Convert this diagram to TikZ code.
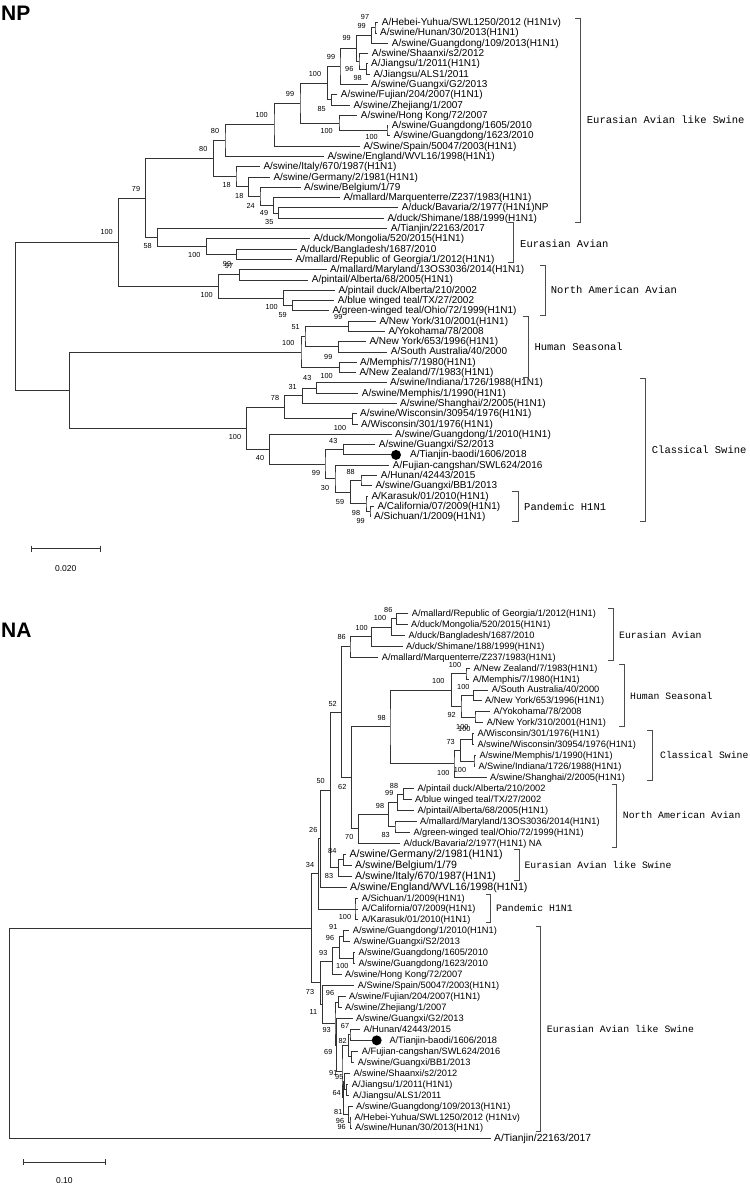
\documentclass[tikz,border=0pt]{standalone}
\usepackage{fontspec}
\setmainfont{Liberation Sans}
\newfontfamily\cladefont{Liberation Mono}
\usetikzlibrary{positioning}
\tikzset{
  branch/.style={draw=black!80, line width=0.9pt},
  leaf/.style={anchor=west, inner xsep=3.5pt, inner ysep=0pt, text height=7.6pt, text depth=1.6pt,
               font=\fontsize{10}{10}\selectfont},
  leafna/.style={leaf, font=\fontsize{9.25}{9.25}\selectfont},
  leafbig/.style={leaf, font=\fontsize{10.6}{10.6}\selectfont},
  boot/.style={inner sep=0pt, font=\fontsize{7.3}{7.3}\selectfont},
  marker/.style={circle, fill=black, inner sep=0pt, minimum size=10pt},
  clade/.style={draw=black!70, line width=0.9pt},
  cladename/.style={anchor=west, inner sep=0pt, font=\cladefont\fontsize{10.5}{10.5}\selectfont},
  cladenamena/.style={cladename, font=\cladefont\fontsize{9.8}{9.8}\selectfont},
  treetitle/.style={anchor=west, inner sep=0pt, font=\fontsize{21}{21}\selectfont\bfseries},
  scalebar/.style={draw=black!80, line width=0.9pt},
}
\newcommand{\cladebar}[4]{\draw[clade] (#1,#3) -| (#2,#4) -- (#1,#4);}

\begin{document}
\begin{tikzpicture}[x=1pt, y=-1pt]
\useasboundingbox (0,0) rectangle (750,1187);

% ---------------- NP tree ----------------
\node[treetitle] (np-title) at (1,13.3) {NP};

\begin{scope}[yshift=-22.7pt, y=-10.29pt]
% leaves
\node[leaf] (np-l0) at (378.2,0) {A/Hebei-Yuhua/SWL1250/2012 (H1N1v)};
\node[leaf] (np-l1) at (376.5,1) {A/swine/Hunan/30/2013(H1N1)};
\node[leaf] (np-l2) at (388.2,2) {A/swine/Guangdong/109/2013(H1N1)};
\node[leaf] (np-l3) at (368.2,3) {A/swine/Shaanxi/s2/2012};
\node[leaf] (np-l4) at (367.5,4) {A/Jiangsu/1/2011(H1N1)};
\node[leaf] (np-l5) at (369.8,5) {A/Jiangsu/ALS1/2011};
\node[leaf] (np-l6) at (367.5,6) {A/swine/Guangxi/G2/2013};
\node[leaf] (np-l7) at (337.2,7) {A/swine/Fujian/204/2007(H1N1)};
\node[leaf] (np-l8) at (349.8,8) {A/swine/Zhejiang/1/2007};
\node[leaf] (np-l9) at (357.2,9) {A/swine/Hong Kong/72/2007};
\node[leaf] (np-l10) at (388.2,10) {A/swine/Guangdong/1605/2010};
\node[leaf] (np-l11) at (389.8,11) {A/swine/Guangdong/1623/2010};
\node[leaf] (np-l12) at (359.8,12) {A/Swine/Spain/50047/2003(H1N1)};
\node[leaf] (np-l13) at (323.8,13) {A/swine/England/WVL16/1998(H1N1)};
\node[leaf] (np-l14) at (259.8,14) {A/swine/Italy/670/1987(H1N1)};
\node[leaf] (np-l15) at (269.8,15) {A/swine/Germany/2/1981(H1N1)};
\node[leaf] (np-l16) at (300.5,16) {A/swine/Belgium/1/79};
\node[leaf] (np-l17) at (339.8,17) {A/mallard/Marquenterre/Z237/1983(H1N1)};
\node[leaf] (np-l18) at (398.2,18) {A/duck/Bavaria/2/1977(H1N1)NP};
\node[leaf] (np-l19) at (383.8,19) {A/duck/Shimane/188/1999(H1N1)};
\node[leaf] (np-l20) at (387.2,20) {A/Tianjin/22163/2017};
\node[leaf] (np-l21) at (309.8,21) {A/duck/Mongolia/520/2015(H1N1)};
\node[leaf] (np-l22) at (296.5,22) {A/duck/Bangladesh/1687/2010};
\node[leaf] (np-l23) at (291.8,23) {A/mallard/Republic of Georgia/1/2012(H1N1)};
\node[leaf] (np-l24) at (326.5,24) {A/mallard/Maryland/13OS3036/2014(H1N1)};
\node[leaf] (np-l25) at (308.2,25) {A/pintail/Alberta/68/2005(H1N1)};
\node[leaf] (np-l26) at (334.8,26) {A/pintail duck/Alberta/210/2002};
\node[leaf] (np-l27) at (334.2,27) {A/blue winged teal/TX/27/2002};
\node[leaf] (np-l28) at (328.8,28) {A/green-winged teal/Ohio/72/1999(H1N1)};
\node[leaf] (np-l29) at (375.8,29) {A/New York/310/2001(H1N1)};
\node[leaf] (np-l30) at (384.8,30) {A/Yokohama/78/2008};
\node[leaf] (np-l31) at (365.8,31) {A/New York/653/1996(H1N1)};
\node[leaf] (np-l32) at (387.2,32) {A/South Australia/40/2000};
\node[leaf] (np-l33) at (356.5,33) {A/Memphis/7/1980(H1N1)};
\node[leaf] (np-l34) at (355.8,34) {A/New Zealand/7/1983(H1N1)};
\node[leaf] (np-l35) at (386.5,35) {A/swine/Indiana/1726/1988(H1N1)};
\node[leaf] (np-l36) at (358.2,36) {A/swine/Memphis/1/1990(H1N1)};
\node[leaf] (np-l37) at (396.5,37) {A/swine/Shanghai/2/2005(H1N1)};
\node[leaf] (np-l38) at (356.5,38) {A/swine/Wisconsin/30954/1976(H1N1)};
\node[leaf] (np-l39) at (357.5,39) {A/Wisconsin/301/1976(H1N1)};
\node[leaf] (np-l40) at (391.5,40) {A/swine/Guangdong/1/2010(H1N1)};
\node[leaf] (np-l41) at (375.2,41) {A/swine/Guangxi/S2/2013};
\node[marker] (np-dot) at (396,42) {};
\node[leaf] (np-l42) at (406.5,42) {A/Tianjin-baodi/1606/2018};
\node[leaf] (np-l43) at (389.2,43) {A/Fujian-cangshan/SWL624/2016};
\node[leaf] (np-l44) at (377.2,44) {A/Hunan/42443/2015};
\node[leaf] (np-l45) at (371.8,45) {A/swine/Guangxi/BB1/2013};
\node[leaf] (np-l46) at (367.8,46) {A/Karasuk/01/2010(H1N1)};
\node[leaf] (np-l47) at (373.8,47) {A/California/07/2009(H1N1)};
\node[leaf] (np-l48) at (370.5,48) {A/Sichuan/1/2009(H1N1)};

% internal nodes
\coordinate (np-n01) at (375,0.5);
\coordinate (np-n0to2) at (371.7,1.25);
\coordinate (np-n45) at (366.7,4.5);
\coordinate (np-n3to5) at (359,3.75);
\coordinate (np-n0to5) at (356.7,2.5);
\coordinate (np-n0to6) at (340,4.25);
\coordinate (np-n78) at (331.5,7.5);
\coordinate (np-n0to8) at (327.7,5.875);
\coordinate (np-n1011) at (387,10.5);
\coordinate (np-n9to11) at (339,9.75);
\coordinate (np-n0to11) at (300,7.8125);
\coordinate (np-n0to12) at (274,9.906);
\coordinate (np-n0to13) at (225,11.453);
\coordinate (np-n1819) at (278.3,18.5);
\coordinate (np-n17to19) at (273.3,17.75);
\coordinate (np-n16to19) at (260,16.875);
\coordinate (np-n15to19) at (248.3,15.9375);
\coordinate (np-n14to19) at (236,14.969);
\coordinate (np-n0to19) at (213.3,13.211);
\coordinate (np-n2223) at (236.7,22.5);
\coordinate (np-n21to23) at (206.7,21.75);
\coordinate (np-n20to23) at (157.3,20.875);
\coordinate (np-n0to23) at (145.3,17.043);
\coordinate (np-n2425) at (239.3,24.5);
\coordinate (np-n2728) at (292.7,27.5);
\coordinate (np-n26to28) at (283.3,26.75);
\coordinate (np-n24to28) at (218.3,25.625);
\coordinate (np-n0to28) at (118.7,21.334);
\coordinate (np-n2930) at (348.3,29.5);
\coordinate (np-n3132) at (338.3,31.5);
\coordinate (np-n29to32) at (305,30.5);
\coordinate (np-n3334) at (339.3,33.5);
\coordinate (np-n29to34) at (301,32);
\coordinate (np-n3536) at (316.7,35.5);
\coordinate (np-n35to37) at (302.7,36.25);
\coordinate (np-n3839) at (352.7,38.5);
\coordinate (np-n35to39) at (284.3,37.375);
\coordinate (np-n4142) at (343.3,41.5);
\coordinate (np-n4445) at (361,44.5);
\coordinate (np-n4748) at (370,47.5);
\coordinate (np-n46to48) at (366,46.75);
\coordinate (np-n44to48) at (350.7,45.625);
\coordinate (np-n43to48) at (335,44.3125);
\coordinate (np-n41to48) at (325,42.906);
\coordinate (np-n40to48) at (269.3,41.453);
\coordinate (np-n35to48) at (246.7,39.414);
\coordinate (np-n29to48) at (69.3,35.707);
\coordinate (np-root) at (15.7,28.52);

% branches
\draw[branch] (np-l0) -| (np-n01) |- (np-l1);
\draw[branch] (np-n01) -| (np-n0to2) |- (np-l2);
\draw[branch] (np-l4) -| (np-n45) |- (np-l5);
\draw[branch] (np-l3) -| (np-n3to5) |- (np-n45);
\draw[branch] (np-n0to2) -| (np-n0to5) |- (np-n3to5);
\draw[branch] (np-n0to5) -| (np-n0to6) |- (np-l6);
\draw[branch] (np-l7) -| (np-n78) |- (np-l8);
\draw[branch] (np-n0to6) -| (np-n0to8) |- (np-n78);
\draw[branch] (np-l10) -| (np-n1011) |- (np-l11);
\draw[branch] (np-l9) -| (np-n9to11) |- (np-n1011);
\draw[branch] (np-n0to8) -| (np-n0to11) |- (np-n9to11);
\draw[branch] (np-n0to11) -| (np-n0to12) |- (np-l12);
\draw[branch] (np-n0to12) -| (np-n0to13) |- (np-l13);
\draw[branch] (np-l18) -| (np-n1819) |- (np-l19);
\draw[branch] (np-l17) -| (np-n17to19) |- (np-n1819);
\draw[branch] (np-l16) -| (np-n16to19) |- (np-n17to19);
\draw[branch] (np-l15) -| (np-n15to19) |- (np-n16to19);
\draw[branch] (np-l14) -| (np-n14to19) |- (np-n15to19);
\draw[branch] (np-n0to13) -| (np-n0to19) |- (np-n14to19);
\draw[branch] (np-l22) -| (np-n2223) |- (np-l23);
\draw[branch] (np-l21) -| (np-n21to23) |- (np-n2223);
\draw[branch] (np-l20) -| (np-n20to23) |- (np-n21to23);
\draw[branch] (np-n0to19) -| (np-n0to23) |- (np-n20to23);
\draw[branch] (np-l24) -| (np-n2425) |- (np-l25);
\draw[branch] (np-l27) -| (np-n2728) |- (np-l28);
\draw[branch] (np-l26) -| (np-n26to28) |- (np-n2728);
\draw[branch] (np-n2425) -| (np-n24to28) |- (np-n26to28);
\draw[branch] (np-n0to23) -| (np-n0to28) |- (np-n24to28);
\draw[branch] (np-l29) -| (np-n2930) |- (np-l30);
\draw[branch] (np-l31) -| (np-n3132) |- (np-l32);
\draw[branch] (np-n2930) -| (np-n29to32) |- (np-n3132);
\draw[branch] (np-l33) -| (np-n3334) |- (np-l34);
\draw[branch] (np-n29to32) -| (np-n29to34) |- (np-n3334);
\draw[branch] (np-l35) -| (np-n3536) |- (np-l36);
\draw[branch] (np-n3536) -| (np-n35to37) |- (np-l37);
\draw[branch] (np-l38) -| (np-n3839) |- (np-l39);
\draw[branch] (np-n35to37) -| (np-n35to39) |- (np-n3839);
\draw[branch] (np-l41) -| (np-n4142) |- (np-dot);
\draw[branch] (np-l44) -| (np-n4445) |- (np-l45);
\draw[branch] (np-l47) -| (np-n4748) |- (np-l48);
\draw[branch] (np-l46) -| (np-n46to48) |- (np-n4748);
\draw[branch] (np-n4445) -| (np-n44to48) |- (np-n46to48);
\draw[branch] (np-l43) -| (np-n43to48) |- (np-n44to48);
\draw[branch] (np-n4142) -| (np-n41to48) |- (np-n43to48);
\draw[branch] (np-l40) -| (np-n40to48) |- (np-n41to48);
\draw[branch] (np-n35to39) -| (np-n35to48) |- (np-n40to48);
\draw[branch] (np-n29to34) -| (np-n29to48) |- (np-n35to48);
\draw[branch] (np-n0to28) -| (np-root) |- (np-n29to48);
\end{scope}

% bootstrap values
\foreach [count=\k] \bx/\by/\bv in {365/16.7/97, 361.7/26/99, 346.7/38.3/99, 331/57.3/99,
    315/74/100, 349.3/69.3/96, 357.7/77.7/98, 290/94.3/99, 321.7/109.3/85, 261.7/115/100,
    326.7/131/100, 371.7/137.3/100, 215/131/80, 203.3/149/80, 226.7/185/18, 136/189/79,
    239.3/196/18, 250.7/205.7/24, 264/213.3/49, 269.3/221.7/35, 106.7/231.7/100,
    147.7/246/58, 194.3/255/100, 227/264/99, 229/266/97, 206.7/295/100, 271.7/306.7/100,
    282.7/315/59, 338.3/316.7/99, 295.7/326.7/51, 288.3/342.7/100, 328.3/356.7/99,
    307.3/378.3/43, 326.7/376/100, 292.7/386.7/31, 275/398.3/78, 340/428.3/100,
    235/437.3/100, 333.3/441/43, 260/458.3/40, 350.7/472.3/88, 316/473.3/99,
    325/487.7/30, 340/501.7/59, 356/512.7/98, 360.7/521/99}
  \node[boot] (np-b\k) at (\bx,\by) {\bv};

% clade brackets
\cladebar{575}{580}{18.3}{222.3}
\node[cladename] (np-eals) at (586.7,120) {Eurasian Avian like Swine};
\cladebar{508.3}{513.3}{222.7}{262.7}
\node[cladename] (np-ea) at (520,244) {Eurasian Avian};
\cladebar{540}{545.7}{265}{315}
\node[cladename] (np-naa) at (550.7,290) {North American Avian};
\cladebar{522.7}{528.3}{316}{377.3}
\node[cladename] (np-hs) at (534.3,346.7) {Human Seasonal};
\cladebar{640}{645.7}{378.3}{521.7}
\node[cladename] (np-cs) at (651.7,450) {Classical Swine};
\cladebar{512.3}{518.3}{491.7}{521.7}
\node[cladename] (np-pdm) at (524,506.7) {Pandemic H1N1};

% scale bar
\draw[scalebar] (31,545.7) -- (31,551.7) (31,548.7) -- (100,548.7) (100,545.7) -- (100,551.7);
\node[boot, font=\fontsize{8.5}{8.5}\selectfont] (np-scale) at (65.7,569) {0.020};

% ---------------- NA tree ----------------
\node[treetitle] (na-title) at (1,630) {NA};

\begin{scope}[yshift=-613.3pt, y=-10.95pt]
% leaves
\node[leafna] (na-l0) at (408.2,0) {A/mallard/Republic of Georgia/1/2012(H1N1)};
\node[leafna] (na-l1) at (407.5,1) {A/duck/Mongolia/520/2015(H1N1)};
\node[leafna] (na-l2) at (404.8,2) {A/duck/Bangladesh/1687/2010};
\node[leafna] (na-l3) at (402.5,3) {A/duck/Shimane/188/1999(H1N1)};
\node[leafna] (na-l4) at (378.2,4) {A/mallard/Marquenterre/Z237/1983(H1N1)};
\node[leafna] (na-l5) at (469.8,5) {A/New Zealand/7/1983(H1N1)};
\node[leafna] (na-l6) at (469.2,6) {A/Memphis/7/1980(H1N1)};
\node[leafna] (na-l7) at (488.2,7) {A/South Australia/40/2000};
\node[leafna] (na-l8) at (481.5,8) {A/New York/653/1996(H1N1)};
\node[leafna] (na-l9) at (489.8,9) {A/Yokohama/78/2008};
\node[leafna] (na-l10) at (483.2,10) {A/New York/310/2001(H1N1)};
\node[leafna] (na-l11) at (473.8,11) {A/Wisconsin/301/1976(H1N1)};
\node[leafna] (na-l12) at (473.8,12) {A/swine/Wisconsin/30954/1976(H1N1)};
\node[leafna] (na-l13) at (475.8,13) {A/swine/Memphis/1/1990(H1N1)};
\node[leafna] (na-l14) at (474.8,14) {A/Swine/Indiana/1726/1988(H1N1)};
\node[leafna] (na-l15) at (486.5,15) {A/swine/Shanghai/2/2005(H1N1)};
\node[leafna] (na-l16) at (413.8,16) {A/pintail duck/Alberta/210/2002};
\node[leafna] (na-l17) at (411.5,17) {A/blue winged teal/TX/27/2002};
\node[leafna] (na-l18) at (413.8,18) {A/pintail/Alberta/68/2005(H1N1)};
\node[leafna] (na-l19) at (416.5,19) {A/mallard/Maryland/13OS3036/2014(H1N1)};
\node[leafna] (na-l20) at (409.8,20) {A/green-winged teal/Ohio/72/1999(H1N1)};
\node[leafna] (na-l21) at (399.8,21) {A/duck/Bavaria/2/1977(H1N1) NA};
\node[leafbig] (na-l22) at (345.8,22) {A/swine/Germany/2/1981(H1N1)};
\node[leafbig] (na-l23) at (351.5,23) {A/swine/Belgium/1/79};
\node[leafbig] (na-l24) at (351.5,24) {A/swine/Italy/670/1987(H1N1)};
\node[leafbig] (na-l25) at (346.5,25) {A/swine/England/WVL16/1998(H1N1)};
\node[leafna] (na-l26) at (358.2,26) {A/Sichuan/1/2009(H1N1)};
\node[leafna] (na-l27) at (358.2,27) {A/California/07/2009(H1N1)};
\node[leafna] (na-l28) at (358.2,28) {A/Karasuk/01/2010(H1N1)};
\node[leafna] (na-l29) at (349.2,29) {A/swine/Guangdong/1/2010(H1N1)};
\node[leafna] (na-l30) at (349.8,30) {A/swine/Guangxi/S2/2013};
\node[leafna] (na-l31) at (354.8,31) {A/swine/Guangdong/1605/2010};
\node[leafna] (na-l32) at (354.8,32) {A/swine/Guangdong/1623/2010};
\node[leafna] (na-l33) at (341.5,33) {A/swine/Hong Kong/72/2007};
\node[leafna] (na-l34) at (354.2,34) {A/Swine/Spain/50047/2003(H1N1)};
\node[leafna] (na-l35) at (345.5,35) {A/swine/Fujian/204/2007(H1N1)};
\node[leafna] (na-l36) at (341.5,36) {A/swine/Zhejiang/1/2007};
\node[leafna] (na-l37) at (352.5,37) {A/swine/Guangxi/G2/2013};
\node[leafna] (na-l38) at (359.8,38) {A/Hunan/42443/2015};
\node[marker] (na-dot) at (376.7,39) {};
\node[leafna] (na-l39) at (385.8,39) {A/Tianjin-baodi/1606/2018};
\node[leafna] (na-l40) at (358.2,40) {A/Fujian-cangshan/SWL624/2016};
\node[leafna] (na-l41) at (354.2,41) {A/swine/Guangxi/BB1/2013};
\node[leafna] (na-l42) at (349.8,42) {A/swine/Shaanxi/s2/2012};
\node[leafna] (na-l43) at (348.2,43) {A/Jiangsu/1/2011(H1N1)};
\node[leafna] (na-l44) at (349.2,44) {A/Jiangsu/ALS1/2011};
\node[leafna] (na-l45) at (352.5,45) {A/swine/Guangdong/109/2013(H1N1)};
\node[leafna] (na-l46) at (350.8,46) {A/Hebei-Yuhua/SWL1250/2012 (H1N1v)};
\node[leafna] (na-l47) at (351.5,47) {A/swine/Hunan/30/2013(H1N1)};
\node[leaf, font=\fontsize{10.3}{10.3}\selectfont] (na-l48) at (490.5,48) {A/Tianjin/22163/2017};

% internal nodes
\coordinate (na-n01) at (396.7,0.5);
\coordinate (na-n0to2) at (391.7,1.25);
\coordinate (na-n0to3) at (371.7,2.125);
\coordinate (na-n0to4) at (350,3.0625);
\coordinate (na-n56) at (466,5.5);
\coordinate (na-n78) at (473.3,7.5);
\coordinate (na-n910) at (475,9.5);
\coordinate (na-n7to10) at (461,8.5);
\coordinate (na-n5to10) at (451.7,7);
\coordinate (na-n1112) at (472.7,11.5);
\coordinate (na-n1314) at (474,13.5);
\coordinate (na-n11to14) at (460.7,12.5);
\coordinate (na-n11to15) at (454,13.75);
\coordinate (na-n5to15) at (390,10.375);
\coordinate (na-n1617) at (403.3,16.5);
\coordinate (na-n16to18) at (397.7,17.25);
\coordinate (na-n1920) at (395,19.5);
\coordinate (na-n16to20) at (388.3,18.375);
\coordinate (na-n16to21) at (358.3,19.6875);
\coordinate (na-n5to21) at (351.7,15.031);
\coordinate (na-n0to21) at (341.7,9.047);
\coordinate (na-n2223) at (343.3,22.5);
\coordinate (na-n22to24) at (338.3,23.25);
\coordinate (na-n0to24) at (330.7,16.148);
\coordinate (na-n0to25) at (320.7,20.574);
\coordinate (na-n26to28) at (355,27);
\coordinate (na-n0to28) at (318.3,23.787);
\coordinate (na-n2930) at (343.3,29.5);
\coordinate (na-n3132) at (353.3,31.5);
\coordinate (na-n29to32) at (339.3,30.5);
\coordinate (na-n29to33) at (332.3,31.75);
\coordinate (na-n3536) at (338.3,35.5);
\coordinate (na-n3839) at (350,38.5);
\coordinate (na-n4041) at (351.7,40.5);
\coordinate (na-n38to41) at (348.3,39.5);
\coordinate (na-n4344) at (346.5,43.5);
\coordinate (na-n42to44) at (344.3,42.75);
\coordinate (na-n4647) at (350,46.5);
\coordinate (na-n45to47) at (348.3,45.75);
\coordinate (na-n42to47) at (343.5,44.25);
\coordinate (na-n38to47) at (342,41.875);
\coordinate (na-n37to47) at (336.7,39.44);
\coordinate (na-n35to47) at (335,37.47);
\coordinate (na-n34to47) at (322.7,35.735);
\coordinate (na-n29to47) at (320.7,33.74);
\coordinate (na-n0to47) at (311.7,28.76);
\coordinate (na-root) at (9.3,38.38);

% branches
\draw[branch] (na-l0) -| (na-n01) |- (na-l1);
\draw[branch] (na-n01) -| (na-n0to2) |- (na-l2);
\draw[branch] (na-n0to2) -| (na-n0to3) |- (na-l3);
\draw[branch] (na-n0to3) -| (na-n0to4) |- (na-l4);
\draw[branch] (na-l5) -| (na-n56) |- (na-l6);
\draw[branch] (na-l7) -| (na-n78) |- (na-l8);
\draw[branch] (na-l9) -| (na-n910) |- (na-l10);
\draw[branch] (na-n78) -| (na-n7to10) |- (na-n910);
\draw[branch] (na-n56) -| (na-n5to10) |- (na-n7to10);
\draw[branch] (na-l11) -| (na-n1112) |- (na-l12);
\draw[branch] (na-l13) -| (na-n1314) |- (na-l14);
\draw[branch] (na-n1112) -| (na-n11to14) |- (na-n1314);
\draw[branch] (na-n11to14) -| (na-n11to15) |- (na-l15);
\draw[branch] (na-n5to10) -| (na-n5to15) |- (na-n11to15);
\draw[branch] (na-l16) -| (na-n1617) |- (na-l17);
\draw[branch] (na-n1617) -| (na-n16to18) |- (na-l18);
\draw[branch] (na-l19) -| (na-n1920) |- (na-l20);
\draw[branch] (na-n16to18) -| (na-n16to20) |- (na-n1920);
\draw[branch] (na-n16to20) -| (na-n16to21) |- (na-l21);
\draw[branch] (na-n5to15) -| (na-n5to21) |- (na-n16to21);
\draw[branch] (na-n0to4) -| (na-n0to21) |- (na-n5to21);
\draw[branch] (na-l22) -| (na-n2223) |- (na-l23);
\draw[branch] (na-n2223) -| (na-n22to24) |- (na-l24);
\draw[branch] (na-n0to21) -| (na-n0to24) |- (na-n22to24);
\draw[branch] (na-n0to24) -| (na-n0to25) |- (na-l25);
\draw[branch] (na-l26) -| (na-n26to28) |- (na-l28);
\draw[branch] (na-n26to28) |- (na-l27);
\draw[branch] (na-n0to25) -| (na-n0to28) |- (na-n26to28);
\draw[branch] (na-l29) -| (na-n2930) |- (na-l30);
\draw[branch] (na-l31) -| (na-n3132) |- (na-l32);
\draw[branch] (na-n2930) -| (na-n29to32) |- (na-n3132);
\draw[branch] (na-n29to32) -| (na-n29to33) |- (na-l33);
\draw[branch] (na-l35) -| (na-n3536) |- (na-l36);
\draw[branch] (na-l38) -| (na-n3839) |- (na-dot);
\draw[branch] (na-l40) -| (na-n4041) |- (na-l41);
\draw[branch] (na-n3839) -| (na-n38to41) |- (na-n4041);
\draw[branch] (na-l43) -| (na-n4344) |- (na-l44);
\draw[branch] (na-l42) -| (na-n42to44) |- (na-n4344);
\draw[branch] (na-l46) -| (na-n4647) |- (na-l47);
\draw[branch] (na-l45) -| (na-n45to47) |- (na-n4647);
\draw[branch] (na-n42to44) -| (na-n42to47) |- (na-n45to47);
\draw[branch] (na-n38to41) -| (na-n38to47) |- (na-n42to47);
\draw[branch] (na-l37) -| (na-n37to47) |- (na-n38to47);
\draw[branch] (na-n3536) -| (na-n35to47) |- (na-n37to47);
\draw[branch] (na-l34) -| (na-n34to47) |- (na-n35to47);
\draw[branch] (na-n29to33) -| (na-n29to47) |- (na-n34to47);
\draw[branch] (na-n0to28) -| (na-n0to47) |- (na-n29to47);
\draw[branch] (na-n0to47) -| (na-root) |- (na-l48);
\end{scope}

% bootstrap values
\foreach [count=\k] \bx/\by/\bv in {388.3/610/86, 380/618.3/100, 361.7/628.3/100, 341.7/637.3/86,
    455/665/100, 438.3/680.7/100, 463.3/686.7/100, 332.7/704.3/52, 451.7/715/92,
    381.7/718.3/98, 462.3/727.3/100, 464.3/729.3/100, 450.7/741.7/73, 443.3/772.7/100,
    460/770/100, 320.7/781/50, 342.3/786.7/62, 394/785.7/88, 389.3/793.3/99, 380/806/98,
    313.3/830/26, 385.7/835/83, 349.3/837.3/70, 332.3/850.7/84, 310/865/34, 329/876/83,
    345/916.7/100, 333.3/926.7/91, 330/938.3/96, 323.3/952.7/93, 342.3/966/100,
    310/991.7/73, 330/993.3/96, 313.3/1011.7/11, 326.7/1030/93, 345/1025.7/67,
    342.7/1040.7/82, 328.3/1051.7/69, 333.3/1072.7/91, 339.3/1076.7/95, 336.7/1093.3/64,
    338.3/1111.7/81, 340/1121/96, 341.7/1126.7/96}
  \node[boot] (na-b\k) at (\bx,\by) {\bv};

% clade brackets
\cladebar{608.3}{613.3}{608.3}{660.7}
\node[cladenamena] (na-ea) at (619,635) {Eurasian Avian};
\cladebar{619}{624}{664}{726}
\node[cladenamena] (na-hs) at (630,696) {Human Seasonal};
\cladebar{647.3}{652.3}{730}{780.7}
\node[cladenamena] (na-cs) at (660,755) {Classical Swine};
\cladebar{611.7}{616.7}{784}{847.3}
\node[cladenamena] (na-naa) at (622.7,815) {North American Avian};
\cladebar{514}{519}{849}{880}
\node[cladenamena] (na-eals1) at (524.3,865) {Eurasian Avian like Swine};
\cladebar{485.7}{490.7}{894}{922.3}
\node[cladenamena] (na-pdm) at (496,907.7) {Pandemic H1N1};
\cladebar{535.7}{540.7}{926.7}{1131.7}
\node[cladenamena] (na-eals2) at (546.7,1029) {Eurasian Avian like Swine};

% scale bar
\draw[scalebar] (23.3,1159.3) -- (23.3,1165.3) (23.3,1162.3) -- (105,1162.3) (105,1159.3) -- (105,1165.3);
\node[boot, font=\fontsize{8.5}{8.5}\selectfont] (na-scale) at (64.3,1180.7) {0.10};
\end{tikzpicture}
\end{document}
